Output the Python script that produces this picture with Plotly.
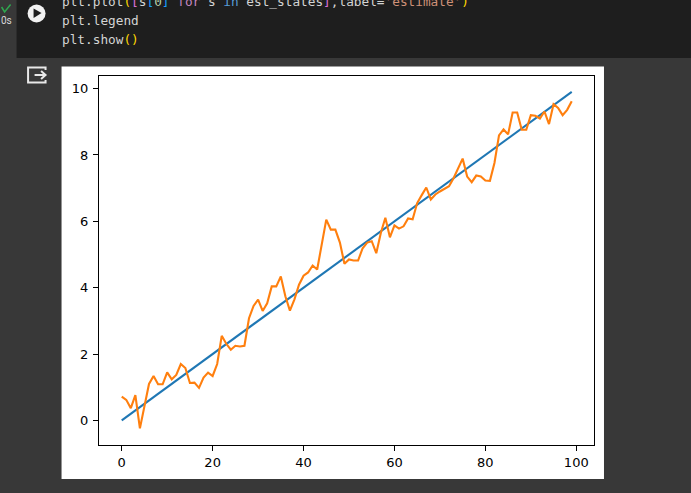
import plotly.graph_objects as go

true_states = list(range(100))
true_values = [i * 0.1 for i in true_states]
estimate = [0.72, 0.62, 0.37, 0.76, -0.24, 0.48, 1.10, 1.34, 1.09, 1.09,
            1.45, 1.24, 1.37, 1.70, 1.58, 1.13, 1.14, 0.98, 1.29, 1.44,
            1.34, 1.70, 2.55, 2.31, 2.13, 2.25, 2.23, 2.25, 3.08, 3.45,
            3.64, 3.30, 3.53, 4.04, 4.04, 4.34, 3.74, 3.31, 3.65, 4.09,
            4.36, 4.46, 4.67, 4.55, 5.30, 6.05, 5.75, 5.75, 5.36, 4.72,
            4.85, 4.82, 4.82, 5.19, 5.36, 5.40, 5.04, 5.65, 6.11, 5.52,
            5.88, 5.78, 5.85, 6.09, 6.06, 6.55, 6.79, 7.02, 6.66, 6.81,
            6.90, 6.98, 7.06, 7.30, 7.61, 7.89, 7.35, 7.18, 7.38, 7.35,
            7.23, 7.22, 7.76, 8.59, 8.77, 8.62, 9.28, 9.28, 8.76, 8.76,
            9.20, 9.18, 9.10, 9.31, 8.93, 9.53, 9.42, 9.20, 9.36, 9.62]
x_ticks = [0, 20, 40, 60, 80, 100]
y_ticks = [0, 2, 4, 6, 8, 10]

W, H = 691, 493
L, R, T, B = 98.5, 594, 76, 445


def px(x):
    return (x - L) / (R - L)


def py(y):
    return (B - y) / (B - T)


def rect(x0, y0, x1, y1, color):
    return dict(type="rect", xref="paper", yref="paper", layer="below",
                x0=px(x0), x1=px(x1), y0=py(y0), y1=py(y1),
                fillcolor=color, line_width=0)


def path(points, close=False, fill=None, line=None, width=2):
    d = "M" + " L".join(f"{px(a):.5f},{py(b):.5f}" for a, b in points) + (" Z" if close else "")
    return dict(type="path", xref="paper", yref="paper", layer="above", path=d,
                fillcolor=fill or "rgba(0,0,0,0)",
                line=dict(color=line or "rgba(0,0,0,0)", width=width if line else 0))


def code(x, y, text):
    return dict(xref="paper", yref="paper", x=px(x), y=py(y), xanchor="left", yanchor="middle",
                showarrow=False, text=text, align="left",
                font=dict(family="DejaVu Sans Mono", size=12.75, color="#d4d4d4"))


def c(col, s):
    return f'<span style="color:{col}">{s}</span>'


line1 = ("plt.plot" + c("#ffd700", "(") + c("#da70d6", "[") + "s" + c("#179fff", "[") + c("#b5cea8", "0")
         + c("#179fff", "]") + " " + c("#c586c0", "for") + " s " + c("#569cd6", "in") + " est_states"
         + c("#da70d6", "]") + ",label=" + c("#ce9178", "'estimate'") + c("#ffd700", ")"))
line3 = "plt.show" + c("#ffd700", "()")

fig = go.Figure()
fig.add_trace(go.Scatter(x=true_states, y=true_values, mode="lines", line=dict(color="#1f77b4", width=2.1)))
fig.add_trace(go.Scatter(x=true_states, y=estimate, mode="lines", line=dict(color="#ff7f0e", width=2.1)))

axis = dict(showgrid=False, zeroline=False, showline=True, mirror=True, linecolor="black", linewidth=1,
            ticks="outside", ticklen=5, tickwidth=1, tickcolor="black",
            tickfont=dict(family="DejaVu Sans", size=13, color="black"))
fig.update_layout(
    width=W, height=H, showlegend=False,
    margin=dict(l=L, r=W - R, t=T, b=H - B, pad=0),
    paper_bgcolor="#383838", plot_bgcolor="white",
    xaxis=dict(axis, range=[-5.0, 103.9], tickvals=x_ticks),
    yaxis=dict(axis, range=[-0.74, 10.38], tickvals=y_ticks, ticklabelstandoff=2),
    shapes=[
        rect(16, 0, W, 58, "#1e1e1e"),
        rect(61, 66.5, 604, 479, "white"),
        dict(type="circle", xref="paper", yref="paper", layer="above",
             x0=px(27), x1=px(45), y0=py(4.5), y1=py(22.5), fillcolor="#f2f2f2", line_width=0),
        path([(33, 8.5), (33, 18), (41, 13)], close=True, fill="#1e1e1e"),
        path([(1, 7), (4, 12), (10, 4.5)], line="#2fa84f", width=1.5),
        path([(45, 70), (45, 67.5), (27.5, 67.5), (27.5, 82.5), (45, 82.5), (45, 80)], line="#e8e8e8", width=2),
        path([(34, 75), (45, 75)], line="#e8e8e8", width=2),
        path([(40.5, 71), (45, 75), (40.5, 79)], line="#e8e8e8", width=2),
    ],
    annotations=[
        code(59.5, 1.5, line1),
        code(59.5, 20, "plt.legend"),
        code(59.5, 39, line3),
        dict(xref="paper", yref="paper", x=px(5.5), y=py(21), xanchor="center", yanchor="middle",
             showarrow=False, text="0s", font=dict(family="Roboto", size=10, color="#d8d8d8")),
    ],
)
fig.write_html("out.html", config=dict(displayModeBar=False),
               post_script="document.body.style.margin='0';document.body.style.background='#383838';")
